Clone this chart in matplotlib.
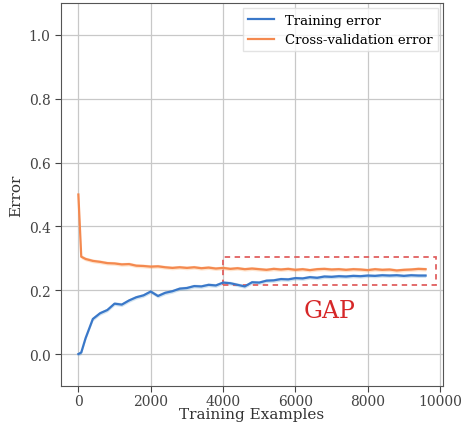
import matplotlib
matplotlib.use('Agg')
from matplotlib import pyplot as plt
from matplotlib.patches import Rectangle

plt.rcParams['font.family'] = ['DejaVu Serif']

train_sizes = [0, 80] + list(range(200, 9601, 200))
train_err = [0.0, 0.005, 0.05, 0.11, 0.128, 0.138, 0.158, 0.155, 0.168, 0.178,
             0.184, 0.196, 0.182, 0.192, 0.197, 0.205, 0.207, 0.213, 0.212, 0.217,
             0.215, 0.224, 0.222, 0.217, 0.212, 0.225, 0.224, 0.23, 0.231, 0.235,
             0.234, 0.238, 0.237, 0.241, 0.239, 0.243, 0.242, 0.244, 0.243, 0.245,
             0.244, 0.246, 0.245, 0.247, 0.246, 0.247, 0.245, 0.247, 0.246, 0.246]
cv_err = [0.5, 0.305, 0.298, 0.292, 0.289, 0.285, 0.284, 0.281, 0.282, 0.277,
          0.276, 0.274, 0.275, 0.272, 0.27, 0.272, 0.27, 0.272, 0.269, 0.271,
          0.268, 0.27, 0.267, 0.269, 0.266, 0.268, 0.266, 0.264, 0.267, 0.265,
          0.267, 0.264, 0.266, 0.263, 0.266, 0.267, 0.265, 0.266, 0.264, 0.266,
          0.265, 0.263, 0.266, 0.264, 0.265, 0.262, 0.264, 0.265, 0.267, 0.266]
band = 0.006

gap_box = (4000, 0.215, 5900, 0.09)  # x, y, width, height

fig = plt.figure(figsize=(4.61, 4.27), dpi=100)
ax = fig.add_axes([61/461, 1-387/427, (443-61)/461, (387-4)/427])

tr_lo = [v - band for v in train_err]
tr_hi = [v + band for v in train_err]
cv_lo = [v - band for v in cv_err]
cv_hi = [v + band for v in cv_err]
ax.fill_between(train_sizes, tr_lo, tr_hi, color='#1f77b4', alpha=0.2, lw=0)
ax.fill_between(train_sizes, cv_lo, cv_hi, color='#ff7f0e', alpha=0.2, lw=0)
ax.plot(train_sizes, train_err, color='#3a78c9', lw=1.6, label='Training error')
ax.plot(train_sizes, cv_err, color='#f4894f', lw=1.6, label='Cross-validation error')

ax.add_patch(Rectangle(gap_box[:2], gap_box[2], gap_box[3], fill=False,
                       ec='#e06060', ls=(0, (3, 2.5)), lw=1.3))
ax.text(6950, 0.135, 'GAP', color='#d62728', fontsize=17, ha='center', va='center')

ax.set_xlim(-480, 10080)
ax.set_ylim(-0.1, 1.1)
ax.set_xticks(range(0, 10001, 2000))
ax.set_yticks([0.0, 0.2, 0.4, 0.6, 0.8, 1.0])
ax.grid(True, color='#c8c8c8', lw=0.9)
ax.set_axisbelow(True)
for s in ax.spines.values():
    s.set_color('#555555')
ax.tick_params(colors='#444444', labelsize=10, length=4)
ax.tick_params(axis='x', pad=2)
ax.set_xlabel('Training Examples', fontsize=11, color='#333333', labelpad=-1)
ax.set_ylabel('Error', fontsize=11, color='#333333')
ax.legend(loc='upper right', fontsize=9.5, framealpha=0.8, edgecolor='#dddddd',
          fancybox=False, borderaxespad=0.4)

fig.savefig('out.png', dpi=100)
